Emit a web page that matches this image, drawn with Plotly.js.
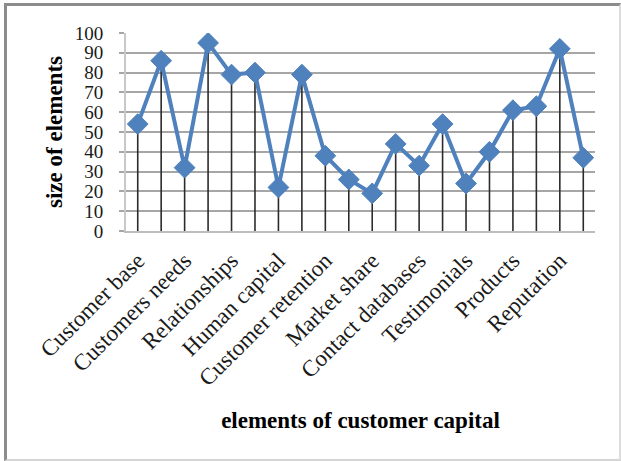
<!DOCTYPE html>
<html>
<head>
<meta charset="utf-8">
<script src="https://cdn.plot.ly/plotly-3.0.1.min.js"></script>
<style>
  html, body { margin: 0; padding: 0; background: #ffffff; }
  #wrap { position: relative; width: 621px; height: 461px; }
  #chart { position: absolute; left: 0; top: 0; width: 621px; height: 461px; }
  #frame {
    position: absolute; left: 4px; top: 3px; width: 612px; height: 453px;
    border-left: 3px solid #8c8c8c; border-top: 3px solid #8c8c8c;
    border-right: 2px solid #dcdcdc; border-bottom: 2px solid #d4d4d4;
    pointer-events: none;
  }
</style>
</head>
<body>
<div id="wrap">
  <div id="chart"></div>
  <div id="frame"></div>
</div>
<script>
// Position of each element along the category axis
const positions = [1, 2, 3, 4, 5, 6, 7, 8, 9, 10, 11, 12, 13, 14, 15, 16, 17, 18, 19, 20];
// Size of each element of customer capital
const sizes = [54, 86, 32, 95, 79, 80, 22, 79, 38, 26, 19, 44, 33, 54, 24, 40, 61, 63, 92, 37];
// Labelled categories (every other element is labelled)
const labelPositions = [1, 3, 5, 7, 9, 11, 13, 15, 17, 19];
const labelTexts = [
  'Customer base', 'Customers needs', 'Relationships', 'Human capital',
  'Customer retention', 'Market share', 'Contact databases', 'Testimonials',
  'Products', 'Reputation'
];
const yTicks = [0, 10, 20, 30, 40, 50, 60, 70, 80, 90, 100];

const blue = '#4f81bd';
const serif = '"Liberation Serif", "Times New Roman", serif';

const trace = {
  x: positions,
  y: sizes,
  type: 'scatter',
  mode: 'lines+markers',
  line: { color: blue, width: 4 },
  marker: { symbol: 'diamond', size: 16, color: blue, line: { color: blue, width: 1 } },
  // drop lines from every point down to the axis
  error_y: {
    type: 'data', symmetric: false,
    array: sizes.map(() => 0),
    arrayminus: sizes,
    width: 0, thickness: 1.6, color: '#2b2b2b'
  },
  hoverinfo: 'skip'
};

const layout = {
  width: 621,
  height: 461,
  margin: { l: 126, r: 26, t: 33, b: 230 },
  paper_bgcolor: '#ffffff',
  plot_bgcolor: '#ffffff',
  showlegend: false,
  font: { family: serif, color: '#111111' },
  xaxis: {
    type: 'linear',
    range: [0.5, 20.5],
    tickmode: 'array',
    tickvals: labelPositions,
    ticktext: labelTexts,
    tickangle: -45,
    tickfont: { family: serif, size: 23, color: '#1a1a1a' },
    showgrid: false,
    zeroline: false,
    showline: true,
    linecolor: '#bdbdbd',
    linewidth: 2,
    ticks: '',
    ticklabelstandoff: 5,
    title: {
      text: '<b>elements of customer capital</b>',
      font: { family: serif, size: 23, color: '#000000' },
      standoff: 22
    },
    automargin: false
  },
  yaxis: {
    range: [0, 100],
    tickmode: 'array',
    tickvals: yTicks,
    tickfont: { family: serif, size: 19, color: '#1a1a1a' },
    showgrid: true,
    gridcolor: '#a6a6a6',
    gridwidth: 2,
    zeroline: false,
    showline: true,
    linecolor: '#c8c8c8',
    linewidth: 2,
    ticks: 'outside',
    ticklen: 5,
    tickcolor: '#a6a6a6',
    tickwidth: 2,
    ticklabelstandoff: 12,
    title: {
      text: '<b>size of elements</b>',
      font: { family: serif, size: 23, color: '#000000' },
      standoff: 6
    },
    automargin: false
  }
};

Plotly.newPlot('chart', [trace], layout, { staticPlot: true, displayModeBar: false });
</script>
</body>
</html>
